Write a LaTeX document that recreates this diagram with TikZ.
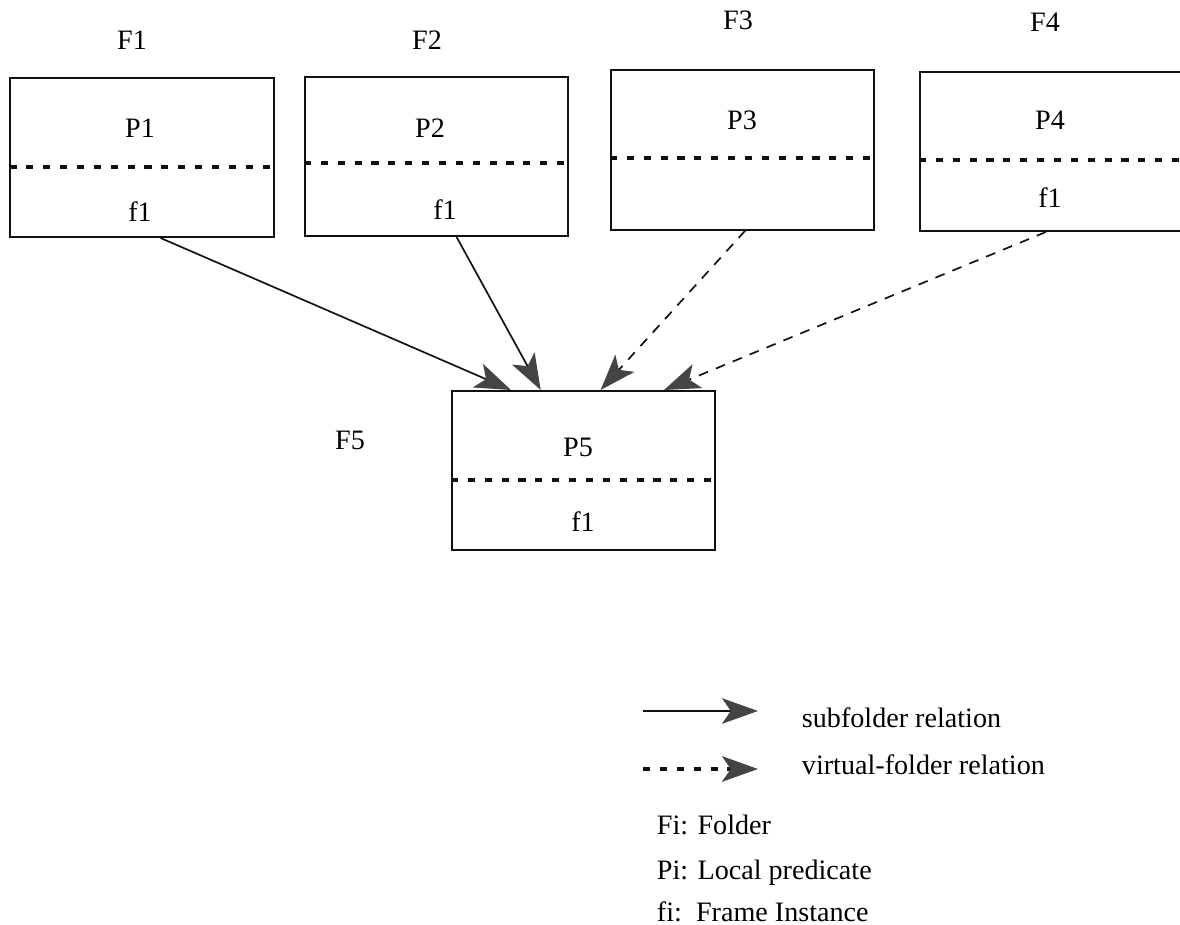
\documentclass[tikz,border=0pt]{standalone}
\usepackage{fontspec}
\setmainfont{Liberation Serif}
\usetikzlibrary{arrows.meta}
\definecolor{inkBlack}{HTML}{111111}
\definecolor{tipGray}{HTML}{444444}

\begin{document}
\begin{tikzpicture}[x=0.025cm, y=-0.025cm, font=\fontsize{20}{24}\selectfont,
    folder/.style={draw=inkBlack, line width=1.4pt, minimum width=6.575cm, minimum height=3.975cm, inner sep=0pt},
    divider/.style={inkBlack, line width=2.4pt, dash pattern=on 5pt off 7pt},
    relhead/.style={-{Stealth[length=0.9cm, width=0.64cm, inset=0.22cm, color=tipGray]}},
    subrel/.style={inkBlack, line width=1.2pt, relhead},
    virtrel/.style={subrel, dash pattern=on 7pt off 6pt}]
    \useasboundingbox (0,0) rectangle (1180,925);

    % folders
    \node[folder] (b1) at (142,157.5) {};
    \node[folder] (b2) at (436.5,156.5) {};
    \node[folder] (b3) at (742.5,150) {};
    \node[folder] (b4) at (1051.5,151.5) {};
    \node[folder] (b5) at (583.5,470.5) {};
    \foreach \b/\y in {b1/167, b2/163, b3/158, b4/160, b5/480}
        \draw[divider] (\b.west |- 0,\y) -- (\b.east |- 0,\y);

    \node (n1) at (132,40) {F1};
    \node (n2) at (427,40) {F2};
    \node (n3) at (738,20) {F3};
    \node (n4) at (1045,22) {F4};
    \node (n5) at (350,440) {F5};

    \node (p1) at (140,128) {P1};
    \node (i1) at (140,212) {f1};
    \node (p2) at (430,128) {P2};
    \node (i2) at (445,210) {f1};
    \node (p3) at (742,120) {P3};
    \node (p4) at (1050,120) {P4};
    \node (i4) at (1050,198) {f1};
    \node (p5) at (578,447) {P5};
    \node (i5) at (583,522) {f1};

    % relations
    \draw[subrel] (b1.-77.2) -- (b5.132.8);
    \draw[subrel] (b2.-76.9) -- (b5.118.7);
    \draw[virtrel] (b3.-88.2) -- (b5.78.3);
    \draw[virtrel] (b4.-94.7) -- (b5.45.4);

    % legend
    \coordinate (s1) at (643,711);
    \coordinate (e1) at (758,711);
    \coordinate (s2) at (643,769);
    \coordinate (e2) at (758,769);
    \draw[subrel] (s1) -- (e1);
    \draw[virtrel, dash pattern=on 5pt off 7pt, line width=2.2pt] (s2) -- (e2);
    \node[anchor=base west] (t1) at (797,727) {subfolder relation};
    \node[anchor=base west] (t2) at (797,774) {virtual-folder relation};
    \node[anchor=base west] (t3) at (652,834) {Fi: Folder};
    \node[anchor=base west] (t4) at (652,879) {Pi: Local predicate};
    \node[anchor=base west] (t5) at (652,921) {fi:\ \ Frame Instance};
\end{tikzpicture}
\end{document}
